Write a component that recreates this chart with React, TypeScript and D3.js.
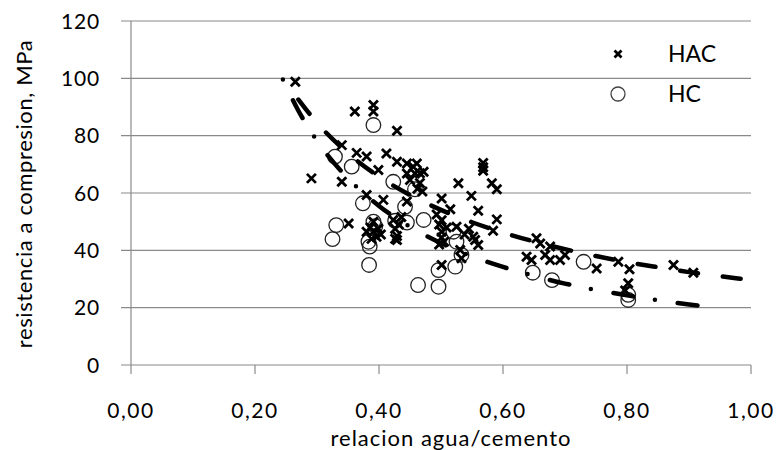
import React from "react";
import * as d3 from "d3";

// ---- data ----
const X_TICKS = [0, 0.2, 0.4, 0.6, 0.8, 1.0];
const Y_TICKS = [0, 20, 40, 60, 80, 100, 120];

const HAC_X = [
  0.265, 0.291, 0.340, 0.340, 0.351, 0.361, 0.364, 0.380, 0.380, 0.391, 0.391, 0.399, 0.407, 0.412,
  0.429, 0.429, 0.445, 0.455, 0.461, 0.466, 0.472, 0.445, 0.458, 0.450, 0.445, 0.462, 0.466, 0.470,
  0.380, 0.386, 0.391, 0.391, 0.396, 0.399, 0.403, 0.388,
  0.423, 0.426, 0.429, 0.429, 0.432, 0.436, 0.426,
  0.493, 0.497, 0.501, 0.501, 0.505, 0.497, 0.509, 0.501,
  0.501, 0.515, 0.528, 0.549, 0.582, 0.590, 0.568, 0.568, 0.568, 0.560, 0.590, 0.584, 0.525, 0.552,
  0.560, 0.531, 0.533, 0.501, 0.538, 0.545, 0.555,
  0.654, 0.660, 0.676, 0.638, 0.646, 0.668, 0.676, 0.692, 0.700,
  0.751, 0.786, 0.804, 0.802, 0.797, 0.875, 0.907,
];
const HAC_Y = [
  98.8, 65.1, 76.7, 63.9, 49.4, 88.4, 74.0, 72.7, 59.3, 90.7, 88.4, 68.0, 57.6, 73.8,
  81.7, 70.9, 70.3, 69.2, 70.3, 66.9, 67.4, 66.8, 66.8, 64.5, 57.0, 61.5, 63.5, 60.5,
  46.5, 48.0, 46.5, 50.0, 44.7, 47.5, 45.5, 44.0,
  50.6, 47.5, 45.0, 43.6, 49.0, 51.6, 44.0,
  52.5, 49.0, 46.5, 44.5, 43.0, 42.0, 48.0, 50.5,
  58.1, 54.3, 63.4, 59.0, 63.4, 61.3, 70.5, 69.0, 67.8, 53.8, 50.8, 46.8, 48.2, 44.7,
  41.9, 40.1, 37.2, 34.9, 45.5, 47.5, 43.6,
  44.2, 42.4, 41.3, 37.8, 36.6, 38.4, 36.6, 36.6, 38.4,
  33.7, 36.0, 33.4, 28.5, 26.0, 34.9, 32.2,
];

const HC_X = [
  0.391, 0.329, 0.356, 0.423, 0.458, 0.374, 0.442, 0.331, 0.325, 0.391, 0.394, 0.383, 0.385, 0.384,
  0.426, 0.445, 0.472, 0.463, 0.496, 0.496, 0.520, 0.525, 0.533, 0.523, 0.648, 0.679, 0.730,
  0.802, 0.802,
];
const HC_Y = [
  83.7, 72.7, 69.2, 63.9, 61.3, 56.4, 55.2, 48.8, 43.9, 50.0, 48.4, 43.0, 41.3, 34.9,
  50.3, 49.7, 50.6, 27.9, 33.1, 27.3, 46.5, 43.0, 38.4, 34.3, 32.2, 29.6, 36.0,
  22.7, 24.5,
];

// trend lines
const HAC_TREND_X = [0.27, 0.30, 0.35, 0.40, 0.45, 0.50, 0.55, 0.60, 0.65, 0.70, 0.75, 0.80, 0.85, 0.90, 0.95, 0.99];
const HAC_TREND_Y = [92.6, 84.5, 73.9, 65.7, 59.3, 54.1, 49.8, 46.2, 43.1, 40.4, 38.0, 35.9, 34.1, 32.4, 31.0, 29.9];
const HC_TREND_X = [0.245, 0.27, 0.30, 0.35, 0.40, 0.45, 0.50, 0.55, 0.60, 0.65, 0.70, 0.75, 0.80, 0.85, 0.90, 0.93];
const HC_TREND_Y = [99.6, 88.7, 78.2, 65.1, 55.5, 48.2, 42.5, 37.9, 34.2, 31.1, 28.4, 26.2, 24.3, 22.6, 21.1, 20.3];

const SERIES_NAMES = ["HAC", "HC"];

// ---- layout ----
const W = 779;
const H = 450;
const X0 = 131;
const X1 = 751;
const Y0 = 365;
const Y1 = 21;
const FONT = "Lato, 'Open Sans', sans-serif";

export default function App() {
  const x = d3.scaleLinear().domain([0, 1]).range([X0, X1]);
  const y = d3.scaleLinear().domain([0, 120]).range([Y0, Y1]);
  const line = d3
    .line<[number, number]>()
    .x((d) => x(d[0]))
    .y((d) => y(d[1]))
    .curve(d3.curveMonotoneX);
  const hacTrend = line(HAC_TREND_X.map((v, i) => [v, HAC_TREND_Y[i]] as [number, number])) || "";
  const hcTrend = line(HC_TREND_X.map((v, i) => [v, HC_TREND_Y[i]] as [number, number])) || "";
  const fmt = (v: number) => d3.format(".2f")(v).replace(".", ",");
  const cross = (cx: number, cy: number, s: number) =>
    `M${cx - s},${cy - s}L${cx + s},${cy + s}M${cx - s},${cy + s}L${cx + s},${cy - s}`;

  return (
    <svg
      width={W}
      height={H}
      style={{ position: "absolute", left: 0, top: 0, background: "#fff" }}
      fontFamily={FONT}
    >
      {/* gridlines */}
      {Y_TICKS.map((t) => (
        <line key={"g" + t} x1={X0 - 10} x2={X1} y1={y(t)} y2={y(t)} stroke="#8a8a8a" strokeWidth={1.2} />
      ))}
      {/* y axis */}
      <line x1={X0} x2={X0} y1={Y1} y2={Y0} stroke="#8a8a8a" strokeWidth={1.2} />
      {X_TICKS.map((t) => (
        <line key={"xt" + t} x1={x(t)} x2={x(t)} y1={Y0} y2={Y0 + 9} stroke="#8a8a8a" strokeWidth={1.2} />
      ))}
      {Y_TICKS.map((t) => (
        <text key={"yl" + t} x={100} y={y(t) + 7.5} textAnchor="end" fontSize={21} fill="#000" letterSpacing={0.8}>
          {t}
        </text>
      ))}
      {X_TICKS.map((t) => (
        <text key={"xl" + t} x={x(t)} y={418} textAnchor="middle" fontSize={21} fill="#000" letterSpacing={1.5}>
          {fmt(t)}
        </text>
      ))}
      <text x={451} y={446} textAnchor="middle" fontSize={22} fill="#000" letterSpacing={1}>
        relacion agua/cemento
      </text>
      <text
        transform={`translate(32,194) rotate(-90)`}
        textAnchor="middle"
        fontSize={22}
        fill="#000"
        letterSpacing={0.6}
      >
        resistencia a compresion, MPa
      </text>

      {/* HC circles */}
      {HC_X.map((v, i) => (
        <circle key={"hc" + i} cx={x(v)} cy={y(HC_Y[i])} r={7.3} fill="none" stroke="#222" strokeWidth={1.3} />
      ))}
      {/* HAC crosses */}
      {HAC_X.map((v, i) => (
        <path key={"hac" + i} d={cross(x(v), y(HAC_Y[i]), 4.5)} stroke="#000" strokeWidth={2.8} fill="none" />
      ))}

      {/* trend lines */}
      <path d={hacTrend} fill="none" stroke="#000" strokeWidth={4.5} strokeLinecap="round" strokeDasharray="18,25" />
      <path d={hcTrend} fill="none" stroke="#000" strokeWidth={4.5} strokeLinecap="round" strokeDasharray="0,23,20,22" />

      {/* legend */}
      <path d={cross(618, 54, 3.5)} stroke="#000" strokeWidth={2.8} fill="none" />
      <text x={668} y={62} fontSize={23} fill="#000">
        {SERIES_NAMES[0]}
      </text>
      <circle cx={618} cy={94} r={7} fill="#fff" stroke="#444" strokeWidth={1.3} />
      <text x={668} y={102} fontSize={23} fill="#000">
        {SERIES_NAMES[1]}
      </text>
    </svg>
  );
}
